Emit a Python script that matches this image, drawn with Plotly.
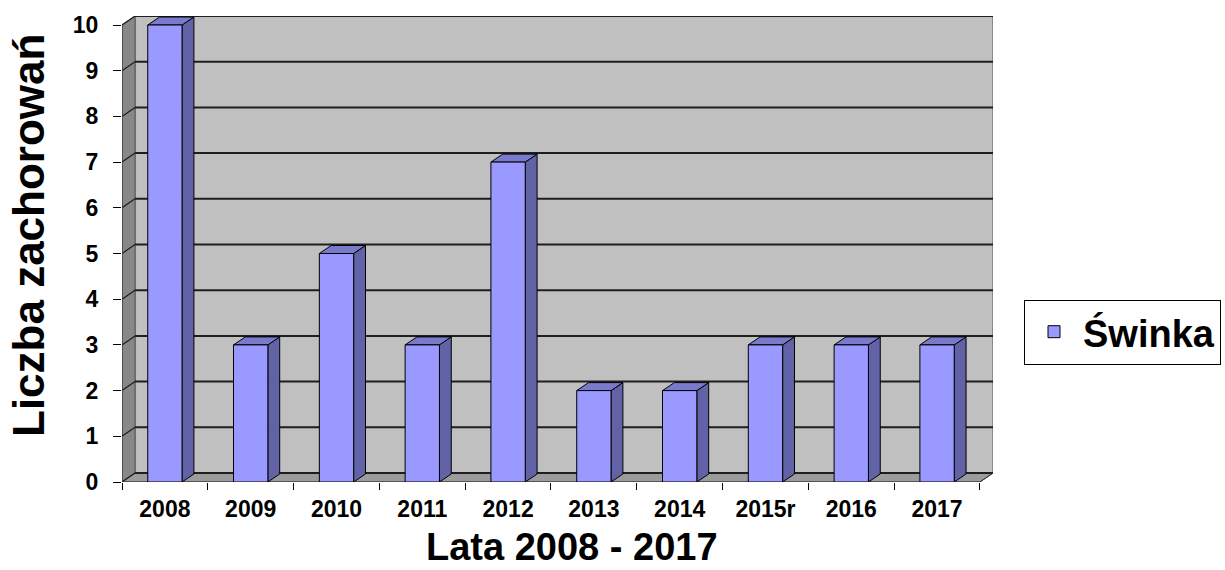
import plotly.graph_objects as go

categories = ['2008', '2009', '2010', '2011', '2012', '2013', '2014', '2015r', '2016', '2017']
values = [10, 3, 5, 3, 7, 2, 2, 3, 3, 3]
y_ticks = list(range(0, 11))
series_name = 'Świnka'
x_title = 'Lata 2008 - 2017'
y_title = 'Liczba zachorowań'

FONT = 'Arial, Liberation Sans, sans-serif'
FRONT = '#9999FF'
SIDE = '#6262A6'
TOP = '#7A7ACC'
BACK_WALL = '#C0C0C0'
LEFT_WALL = '#888888'
FLOOR = '#9C9C9C'
GRID = '#1E1E1E'

# 3D depth offsets in data units (wall and bars)
DX, DY = 0.152, 0.197
BDX, BDY = 0.138, 0.175
BW = 0.4

n = len(categories)
xs = list(range(n))
x0, x1 = -0.5, n - 0.5
ymax = max(y_ticks)

shapes = []


def poly(pts, fill, line='black', lw=1):
    d = 'M ' + ' L '.join(f'{px},{py}' for px, py in pts) + ' Z'
    return dict(type='path', path=d, xref='x', yref='y', fillcolor=fill,
                line=dict(color=line, width=lw), layer='below')


def seg(xa, ya, xb, yb, color, w):
    return dict(type='line', x0=xa, y0=ya, x1=xb, y1=yb, xref='x', yref='y',
                line=dict(color=color, width=w), layer='below')


# back wall
shapes.append(poly([(x0 + DX, DY), (x1 + DX, DY), (x1 + DX, ymax + DY), (x0 + DX, ymax + DY)],
                   BACK_WALL, line='#8a8a8a', lw=2))
# left wall
shapes.append(poly([(x0, 0), (x0, ymax), (x0 + DX, ymax + DY), (x0 + DX, DY)], LEFT_WALL, line='#555555', lw=1))
# floor
shapes.append(poly([(x0, 0), (x1, 0), (x1 + DX, DY), (x0 + DX, DY)], FLOOR, line='#555555', lw=1))
# gridlines on back wall and left wall
for v in y_ticks:
    shapes.append(seg(x0 + DX, v + DY, x1 + DX, v + DY, GRID, 2))
    shapes.append(seg(x0, v, x0 + DX, v + DY, GRID, 1.2))
# front edges
shapes.append(seg(x0, 0, x0, ymax, '#333333', 1))
shapes.append(seg(x0, 0, x1, 0, '#333333', 1))
shapes.append(seg(x1, 0, x1 + DX, DY, '#333333', 1))

# bar side and top faces
for x, v in zip(xs, values):
    r = x + BW / 2
    l = x - BW / 2
    shapes.append(poly([(r, 0), (r, v), (r + BDX, v + BDY), (r + BDX, BDY)], SIDE))
    shapes.append(poly([(l, v), (r, v), (r + BDX, v + BDY), (l + BDX, v + BDY)], TOP))

fig = go.Figure()
fig.add_trace(go.Bar(
    x=xs, y=values, width=BW, name=series_name,
    marker=dict(color=FRONT, line=dict(color='black', width=1)),
    showlegend=True,
))

L, R, T, B = 122, 232, 16, 88
W, H = 1225, 570
pw = W - L - R
ph = H - T - B

fig.update_layout(
    width=W, height=H,
    margin=dict(l=L, r=R, t=T, b=B, pad=0, autoexpand=False),
    paper_bgcolor='white', plot_bgcolor='white',
    font=dict(family=FONT, color='black'),
    shapes=shapes,
    showlegend=True,
    legend=dict(
        xref='container', yref='container',
        x=1024 / W, xanchor='left',
        y=1 - 332 / H, yanchor='middle',
        bgcolor='white', bordercolor='black', borderwidth=1,
        font=dict(family=FONT, size=38, color='black', weight='bold'),
        itemwidth=48,
    ),
    xaxis=dict(
        range=[x0, x1 + DX], tickmode='array', tickvals=xs, ticktext=categories,
        ticks='', showgrid=False, zeroline=False, showline=False, automargin=False,
        tickfont=dict(family=FONT, size=23, color='black', weight='bold'),
        ticklabelstandoff=11,
        minor=dict(tickmode='array', tickvals=[x - 0.5 for x in range(n + 1)],
                   ticks='outside', ticklen=7, tickcolor='black', tickwidth=1, showgrid=False),
        fixedrange=True,
    ),
    yaxis=dict(
        range=[0, ymax + DY], tickmode='array', tickvals=y_ticks,
        ticks='outside', ticklen=8, tickcolor='black', tickwidth=1,
        showgrid=False, zeroline=False, showline=False, automargin=False,
        tickfont=dict(family=FONT, size=23, color='black', weight='bold'),
        ticklabelstandoff=10,
        fixedrange=True,
    ),
    annotations=[
        dict(text=x_title, xref='paper', yref='paper', x=(572 - L) / pw, y=(H - B - 570) / ph,
             xanchor='center', yanchor='bottom', showarrow=False,
             font=dict(family=FONT, size=38, color='black', weight='bold')),
        dict(text=y_title, xref='paper', yref='paper', x=(28 - L) / pw, y=(H - B - 236) / ph,
             xanchor='center', yanchor='middle', showarrow=False, textangle=-90,
             font=dict(family=FONT, size=44, color='black', weight='bold')),
    ],
)

fig.write_html('out.html')
